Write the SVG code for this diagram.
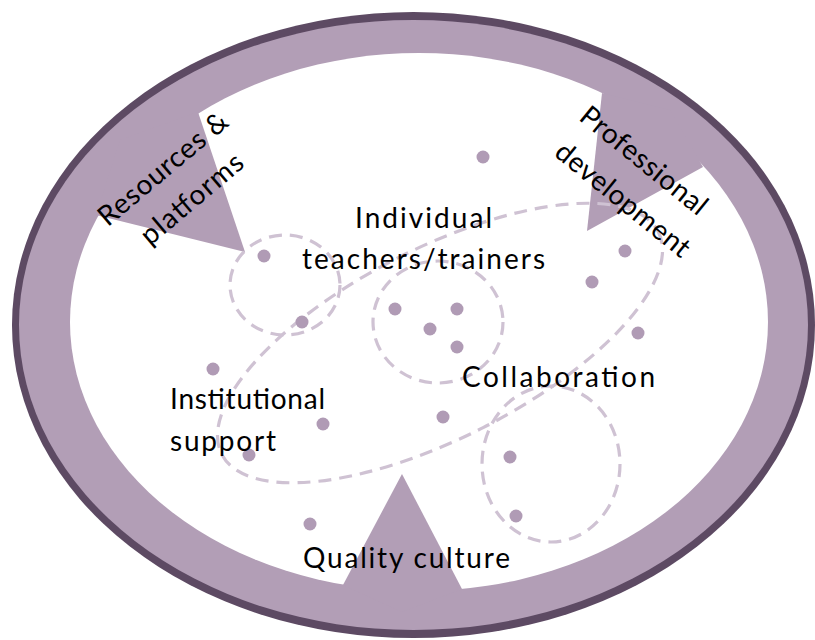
<svg xmlns="http://www.w3.org/2000/svg" width="815" height="640" viewBox="0 0 815 640">
<style>
.band{fill:#b29eb6}
.dot{fill:#b09bb5}
.dash{fill:none;stroke:#cfc2d3;stroke-width:3.2;stroke-dasharray:13 8}
.lbl{font-family:Lato,"Liberation Sans",sans-serif;font-size:28px;fill:#000}
</style>
<rect width="815" height="640" fill="#fff"/>
<g id="ring">
<ellipse cx="413.5" cy="325" rx="401.5" ry="313" fill="#5d4a63"/>
<ellipse class="band" cx="413.5" cy="325" rx="394.5" ry="305"/>
<ellipse cx="419" cy="322" rx="349" ry="269" fill="#fff"/>
</g>
<g id="arrow-resources"><polygon class="band" points="198,112 245,252 96,215 120,140"/></g>
<g id="arrow-professional"><polygon class="band" points="602,93 587,231 703,167 670,110"/></g>
<g id="arrow-quality"><polygon class="band" points="343,585 402,474 462,589 402,612"/></g>
<g id="connectors">
<ellipse class="dash" cx="440" cy="343" rx="245" ry="95" transform="rotate(-27 440 343)"/>
<ellipse class="dash" cx="285" cy="285" rx="55" ry="50"/>
<ellipse class="dash" cx="438" cy="322" rx="65" ry="61"/>
<ellipse class="dash" cx="551" cy="464" rx="69" ry="78"/>
</g>
<g id="dots">
<circle class="dot" cx="483" cy="157" r="6.5"/>
<circle class="dot" cx="264" cy="256" r="6.5"/>
<circle class="dot" cx="625" cy="251" r="6.5"/>
<circle class="dot" cx="592" cy="282" r="6.5"/>
<circle class="dot" cx="302" cy="322" r="6.5"/>
<circle class="dot" cx="395" cy="309" r="6.5"/>
<circle class="dot" cx="457" cy="309" r="6.5"/>
<circle class="dot" cx="430" cy="329" r="6.5"/>
<circle class="dot" cx="457" cy="347" r="6.5"/>
<circle class="dot" cx="638" cy="333" r="6.5"/>
<circle class="dot" cx="213" cy="369" r="6.5"/>
<circle class="dot" cx="443" cy="417" r="6.5"/>
<circle class="dot" cx="323" cy="424" r="6.5"/>
<circle class="dot" cx="249" cy="455" r="6.5"/>
<circle class="dot" cx="510" cy="457" r="6.5"/>
<circle class="dot" cx="516" cy="516" r="6.5"/>
<circle class="dot" cx="310" cy="524" r="6.5"/>
</g>
<g id="label-individual">
<text class="lbl" x="355" y="228" textLength="137">Individual</text>
<text class="lbl" x="302" y="269" textLength="243">teachers/trainers</text>
</g>
<g id="label-collaboration"><text class="lbl" x="462" y="387" textLength="193">Collaboration</text></g>
<g id="label-institutional">
<text class="lbl" x="170" y="409" textLength="155">Institutional</text>
<text class="lbl" x="170" y="451" textLength="106">support</text>
</g>
<g id="label-quality"><text class="lbl" x="303" y="568" textLength="207">Quality culture</text></g>
<g id="label-resources">
<text class="lbl" text-anchor="middle" textLength="160" transform="translate(169,176) rotate(-40)">Resources &amp;</text>
<text class="lbl" text-anchor="middle" textLength="125" transform="translate(198,206) rotate(-40)">platforms</text>
</g>
<g id="label-professional">
<text class="lbl" text-anchor="middle" textLength="155" transform="translate(638,168) rotate(39)">Professional</text>
<text class="lbl" text-anchor="middle" textLength="165" transform="translate(617,207) rotate(39)">development</text>
</g>
</svg>
